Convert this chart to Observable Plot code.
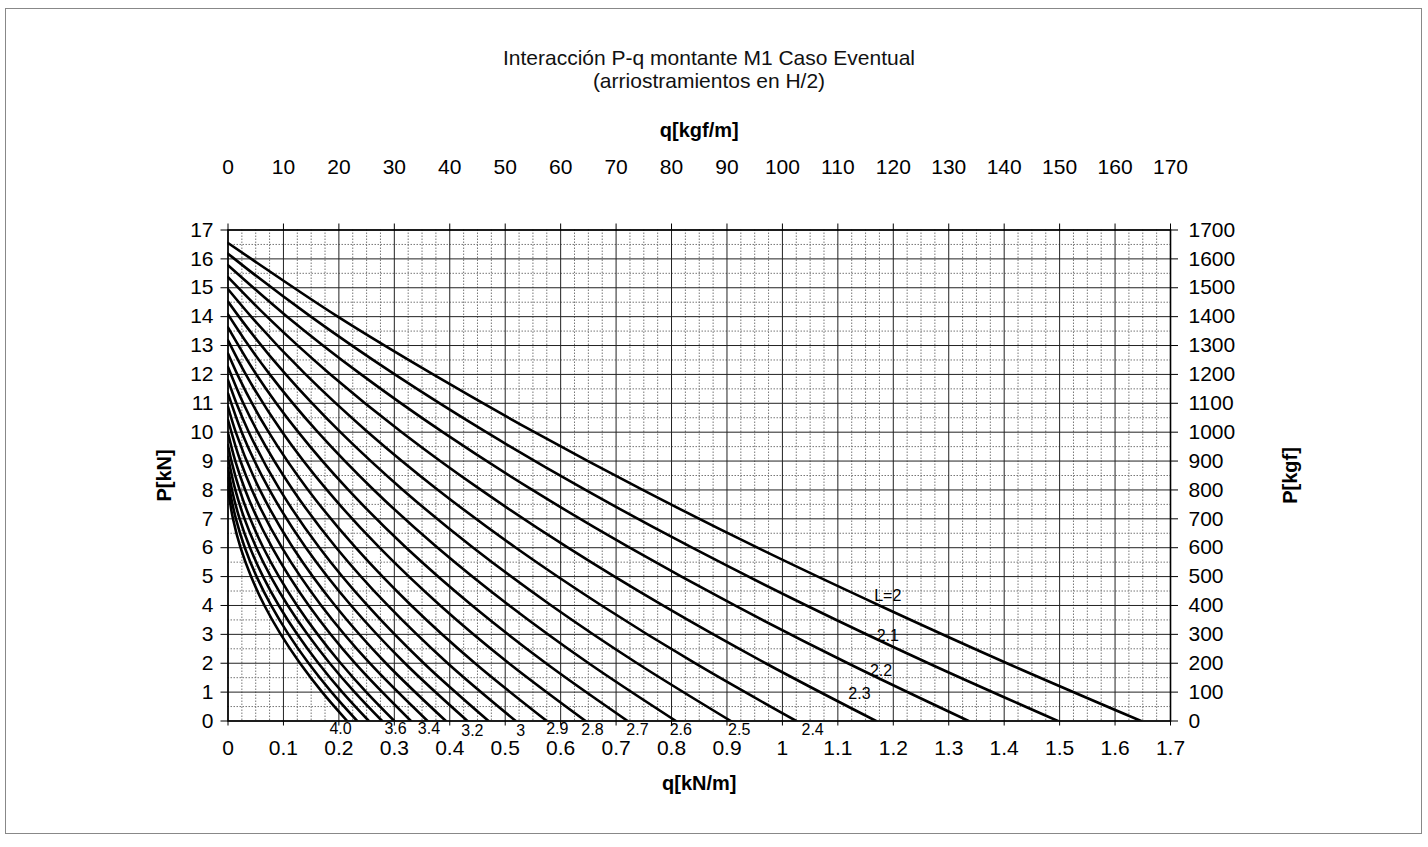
<!DOCTYPE html>
<html><head><meta charset="utf-8">
<script src="https://cdn.jsdelivr.net/npm/d3@7"></script>
<script src="https://cdn.jsdelivr.net/npm/@observablehq/plot@0.6"></script>
<style>
html,body{margin:0;padding:0;background:#fff;}
#page{position:relative;width:1428px;height:847px;overflow:hidden;font-family:"Liberation Sans",Arial,sans-serif;}
#border{position:absolute;left:5px;top:8px;width:1415px;height:824px;border:1px solid #888;}
#title{position:absolute;left:0;top:46px;width:1418px;text-align:center;font-size:21px;line-height:23px;color:#111;}
#chart{position:absolute;left:0;top:100px;}
</style></head><body>
<div id="page"><div id="border"></div>
<div id="title">Interacción P-q montante M1 Caso Eventual<br>(arriostramientos en H/2)</div>
<div id="chart"></div></div>
<script>
// Axis ticks and labels
const qTicks = [0,0.1,0.2,0.3,0.4,0.5,0.6,0.7,0.8,0.9,1,1.1,1.2,1.3,1.4,1.5,1.6,1.7];
const qTickLabels = ["0","0.1","0.2","0.3","0.4","0.5","0.6","0.7","0.8","0.9","1","1.1","1.2","1.3","1.4","1.5","1.6","1.7"];
const kgfTopLabels = ["0","10","20","30","40","50","60","70","80","90","100","110","120","130","140","150","160","170"];
const pTicks = [0,1,2,3,4,5,6,7,8,9,10,11,12,13,14,15,16,17];
const pTickLabels = ["0","1","2","3","4","5","6","7","8","9","10","11","12","13","14","15","16","17"];
const kgfRightLabels = ["0","100","200","300","400","500","600","700","800","900","1000","1100","1200","1300","1400","1500","1600","1700"];

// Curves: [q (kN/m), P (kN)]
const c20 = [[0,16.55],[0.042,16],[0.198,14],[0.37,12],[0.553,10],[0.748,8],[0.955,6],[1.175,4],[1.405,2],[1.647,0]];
const c21 = [[0,16.18],[0.0117,16],[0.1494,14],[0.3008,12],[0.4659,10],[0.6447,8],[0.8372,6],[1.0434,4],[1.2634,2],[1.497,0]];
const c22 = [[0,15.78],[0.1067,14],[0.24,12],[0.3874,10],[0.5489,8],[0.7245,6],[0.9142,4],[1.1181,2],[1.336,0]];
const c23 = [[0,15.37],[0.0703,14],[0.1848,12],[0.3134,10],[0.4563,8],[0.6132,6],[0.7843,4],[0.9696,2],[1.169,0]];
const c24 = [[0,14.95],[0.0418,14],[0.14,12],[0.2524,10],[0.3788,8],[0.5192,6],[0.6738,4],[0.8423,2],[1.025,0]];
const c25 = [[0,14.52],[0.0197,14],[0.1042,12],[0.2028,10],[0.3155,8],[0.4423,6],[0.5831,4],[0.738,2],[0.907,0]];
const c26 = [[0,14.08],[0.0372,13],[0.0753,12],[0.1621,10],[0.263,8],[0.3781,6],[0.5073,4],[0.6506,2],[0.808,0]];
const c27 = [[0,13.63],[0.0511,12],[0.1269,10],[0.2171,8],[0.3215,6],[0.4403,4],[0.5735,2],[0.721,0]];
const c28 = [[0,13.18],[0.0321,12],[0.098,10],[0.1784,8],[0.2733,6],[0.3827,4],[0.5066,2],[0.645,0]];
const c29 = [[0,12.72],[0.0168,12],[0.0734,10],[0.1445,8],[0.2303,6],[0.3306,4],[0.4455,2],[0.575,0]];
const c30 = [[0,12.26],[0.0276,11],[0.0537,10],[0.1171,8],[0.1953,6],[0.2883,4],[0.3962,2],[0.519,0]];
const c31 = [[0,11.8],[0.0152,11],[0.0376,10],[0.0937,8],[0.165,6],[0.2515,4],[0.3532,2],[0.47,0]];
const c32 = [[0,11.34],[0.0247,10],[0.0748,8],[0.1405,6],[0.222,4],[0.3191,2],[0.432,0]];
const c33 = [[0,10.88],[0.014,10],[0.0575,8],[0.1172,6],[0.193,4],[0.2849,2],[0.393,0]];
const c34 = [[0,10.43],[0.0224,9],[0.0432,8],[0.0973,6],[0.1681,4],[0.2557,2],[0.36,0]];
const c35 = [[0,9.98],[0.0132,9],[0.031,8],[0.0797,6],[0.1457,4],[0.2291,2],[0.33,0]];
const c36 = [[0,9.55],[0.0062,9],[0.0209,8],[0.0401,7],[0.0637,6],[0.0919,5],[0.1245,4],[0.1617,3],[0.2033,2],[0.2494,1],[0.30,0]];
const c37 = [[0,9.14],[0.0132,8],[0.0298,7],[0.0511,6],[0.0771,5],[0.1079,4],[0.1433,3],[0.1835,2],[0.2284,1],[0.278,0]];
const c38 = [[0,8.76],[0.0072,8],[0.021,7],[0.0397,6],[0.0632,5],[0.0916,4],[0.1249,3],[0.1631,2],[0.2061,1],[0.254,0]];
const c39 = [[0,8.42],[0.0032,8],[0.0143,7],[0.0304,6],[0.0516,5],[0.0778,4],[0.1091,3],[0.1454,2],[0.1867,1],[0.233,0]];
const c40 = [[0,8.1],[0.0006,8],[0.009,7],[0.0226,6],[0.0416,5],[0.0657,4],[0.0952,3],[0.1299,2],[0.1698,1],[0.215,0]];
const curveNames = ["2.0","2.1","2.2","2.3","2.4","2.5","2.6","2.7","2.8","2.9","3.0","3.1","3.2","3.3","3.4","3.5","3.6","3.7","3.8","3.9","4.0"];
const curveSeries = [c20,c21,c22,c23,c24,c25,c26,c27,c28,c29,c30,c31,c32,c33,c34,c35,c36,c37,c38,c39,c40];

// Curve labels
const labelText = ["L=2","2.1","2.2","2.3","2.4","2.5","2.6","2.7","2.8","2.9","3","3.2","3.4","3.6","4.0"];
const labelQ = [1.19,1.19,1.178,1.139,1.0545,0.922,0.8168,0.7386,0.6574,0.594,0.528,0.4408,0.3625,0.3023,0.2031];
const labelP = [4.33,2.96,1.75,0.94,-0.29,-0.32,-0.3,-0.3,-0.3,-0.27,-0.33,-0.33,-0.26,-0.26,-0.26];

const lineData = curveSeries.flatMap((pts, i) =>
  pts.slice().sort((a, b) => a[1] - b[1]).map(([q, P]) => ({L: curveNames[i], q, P})));
const labels = labelText.map((t, i) => ({t, q: labelQ[i], P: labelP[i]}));

const minorQ = d3.range(1, 68).filter(i => i % 4).map(i => i * 0.025);
const minorP = d3.range(0, 17).map(i => i + 0.5);

const font = '"Liberation Sans", Arial, sans-serif';
const chart = Plot.plot({
  width: 1428, height: 721,
  marginLeft: 227.5, marginRight: 258, marginTop: 129.5, marginBottom: 100.5,
  x: {domain: [0, 1.7]}, y: {domain: [0, 17]},
  style: {fontFamily: font, fontSize: "21px", color: "#000", background: "transparent", overflow: "visible"},
  marks: [
    Plot.ruleX(minorQ, {stroke: "#777", strokeWidth: 1, strokeDasharray: "1.5,1.5"}),
    Plot.ruleY(minorP, {stroke: "#777", strokeWidth: 1, strokeDasharray: "1.5,1.5"}),
    Plot.ruleX(qTicks, {stroke: "#222", strokeWidth: 1}),
    Plot.ruleY(pTicks, {stroke: "#222", strokeWidth: 1}),
    Plot.frame({stroke: "#000", strokeWidth: 1.6}),
    Plot.line(lineData, {x: "q", y: "P", z: "L", stroke: "#000", strokeWidth: 2.6, curve: "monotone-y", clip: true}),
    Plot.axisX({anchor: "bottom", ticks: qTicks, tickFormat: d => qTickLabels[Math.round(d * 10)], tickSize: 5, tickPadding: 14, fontSize: 21, label: null}),
    Plot.axisX({anchor: "top", ticks: qTicks, tickFormat: d => kgfTopLabels[Math.round(d * 10)], tickSize: 7, tickPadding: 49, fontSize: 21, label: null}),
    Plot.axisY({anchor: "left", ticks: pTicks, tickFormat: d => pTickLabels[Math.round(d)], tickSize: 7, tickPadding: 7.5, fontSize: 21, label: null}),
    Plot.axisY({anchor: "right", ticks: pTicks, tickFormat: d => kgfRightLabels[Math.round(d)], tickSize: 7, tickPadding: 11, fontSize: 21, label: null}),
    Plot.text(labels, {x: "q", y: "P", text: "t", fontSize: 16, fill: "#000"}),
    Plot.text(["q[kgf/m]"], {text: d => d, frameAnchor: "top", dy: -99.5, textAnchor: "middle", lineAnchor: "middle", fontWeight: "bold", fontSize: 20}),
    Plot.text(["q[kN/m]"], {text: d => d, frameAnchor: "bottom", dy: 62.5, textAnchor: "middle", lineAnchor: "middle", fontWeight: "bold", fontSize: 20}),
    Plot.text(["P[kN]"], {text: d => d, frameAnchor: "left", dx: -63, rotate: -90, textAnchor: "middle", lineAnchor: "middle", fontWeight: "bold", fontSize: 20}),
    Plot.text(["P[kgf]"], {text: d => d, frameAnchor: "right", dx: 120, rotate: -90, textAnchor: "middle", lineAnchor: "middle", fontWeight: "bold", fontSize: 20})
  ]
});
document.getElementById("chart").appendChild(chart);
</script>
</body></html>
